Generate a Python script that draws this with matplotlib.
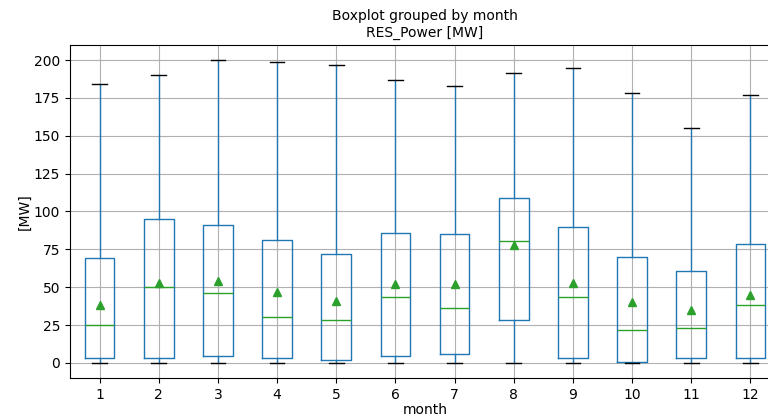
import matplotlib.pyplot as plt

months = [1, 2, 3, 4, 5, 6, 7, 8, 9, 10, 11, 12]
whis_low = [0, 0, 0, 0, 0, 0, 0, 0, 0, 0, 0, 0]
q1 = [3, 3.5, 4.5, 3, 2, 4.5, 6, 28, 3, 0.5, 3, 3]
medians = [25, 50, 46, 30, 28, 43.5, 36, 80.5, 43.5, 22, 23, 38]
means = [38, 53, 54, 47, 41, 52, 52, 78, 53, 40, 35, 45]
q3 = [69, 95, 91, 81, 72, 86, 85, 109, 90, 70, 60.5, 78.5]
whis_high = [184, 190.5, 200, 199, 197, 187, 183, 191.5, 194.5, 178.5, 155, 177]

stats = []
for i, m in enumerate(months):
    stats.append({'label': str(m), 'whislo': whis_low[i], 'q1': q1[i], 'med': medians[i],
                  'mean': means[i], 'q3': q3[i], 'whishi': whis_high[i], 'fliers': []})

fig = plt.figure(figsize=(7.68, 4.19), dpi=100)
ax = fig.add_axes([70/768, 1 - 378/419, 710/768, 333/419])

ax.bxp(stats, positions=months, widths=0.5, showmeans=True,
       boxprops=dict(color='C0'), whiskerprops=dict(color='C0'),
       capprops=dict(color='k'), medianprops=dict(color='C2'),
       meanprops=dict(marker='^', markerfacecolor='C2', markeredgecolor='C2'))

ax.set_xlim(0.5, 12.5)
ax.set_ylim(-10, 210)
ax.set_yticks([0, 25, 50, 75, 100, 125, 150, 175, 200])
ax.grid(True)
ax.set_axisbelow(True)
ax.set_xlabel('month', labelpad=1)
ax.set_ylabel('[MW]', labelpad=2)
ax.set_title('RES_Power [MW]', fontsize=10)
fig.text(425/768, 1 - 16/419, 'Boxplot grouped by month', ha='center', va='center', fontsize=10)

fig.savefig('out.png', dpi=100)
